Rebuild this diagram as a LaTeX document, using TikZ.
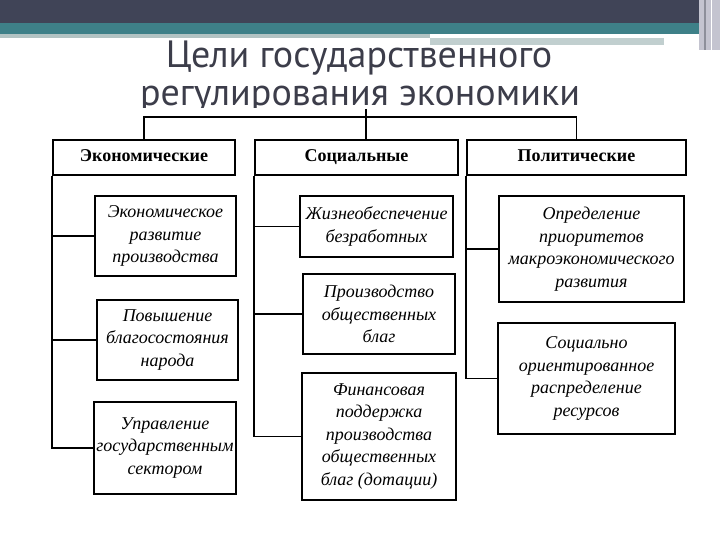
\documentclass[tikz,border=0pt]{standalone}
\usepackage{fontspec}
\setmainfont{Liberation Serif}
\newfontfamily\titlefont{PT Sans}
\definecolor{mSlate}{HTML}{404457}
\definecolor{mTeal}{HTML}{3E8088}
\definecolor{mMist}{HTML}{B2C3C3}
\definecolor{mFog}{HTML}{C4C4D0}
\definecolor{mInk}{HTML}{3C3D4A}
\usetikzlibrary{positioning}
\tikzset{
  headbox/.style={draw, line width=1.6bp, inner sep=0pt,
    text height=12.5bp, text depth=4bp,
    font=\fontsize{18bp}{22bp}\selectfont\bfseries},
  goalbox/.style={draw, line width=1.6bp, inner sep=2bp, align=center,
    font=\fontsize{18bp}{22.5bp}\selectfont\itshape},
  link/.style={line width=1.6bp}
}
\begin{document}
\begin{tikzpicture}[x=1bp, y=-1bp]
  \useasboundingbox (0,0) rectangle (720,540);
  % slide header bands
  \fill[mSlate] (0,0) rectangle (699,23);
  \fill[mTeal] (0,23) rectangle (699,34);
  \fill[mMist] (0,34) rectangle (430,38);
  \fill[mMist!80] (430,38) rectangle (664,45);
  \fill[mFog] (699,0) rectangle (720,50);
  \draw[mSlate!60, line width=2bp] (705,0) -- (705,50);
  \draw[white, line width=1bp] (711,0) -- (711,50);
  % title, cut off by the scanned chart below
  \node[font=\titlefont\fontsize{38bp}{38bp}\selectfont, text=mInk, anchor=base] (title1) at (359,68) {Цели государственного};
  \node[font=\titlefont\fontsize{38bp}{38bp}\selectfont, text=mInk, anchor=base] (title2) at (360,106) {регулирования экономики};
  \fill[white] (0,108) rectangle (720,540);

  % three kinds of goals
  \node[headbox, minimum width=182bp, minimum height=35bp] (eco) at (144,157.5) {Экономические};
  \node[headbox, minimum width=203bp, minimum height=35bp] (soc) at (356.5,157.5) {Социальные};
  \node[headbox, minimum width=219bp, minimum height=35bp] (pol) at (576.5,157.5) {Политические};
  \coordinate (stem) at (366,109);
  \coordinate (bar) at (366,117);
  \draw[link] (stem) -- (stem |- soc.north);
  \draw[link] (eco.north) |- (bar) -| (pol.north);

  % economic
  \node[goalbox, minimum width=141bp, minimum height=80bp] (eco1) at (165.5,236) {Экономическое\\развитие\\производства};
  \node[goalbox, minimum width=141bp, minimum height=80bp] (eco2) at (167.5,340) {Повышение\\благосостояния\\народа};
  \node[goalbox, minimum width=142bp, minimum height=92bp] (eco3) at (165,448) {Управление\\государственным\\сектором};
  \draw[link] (eco.south west) |- (eco3.west);
  \foreach \n in {eco1,eco2}{
    \draw[link] (eco.south west |- \n.west) -- (\n.west);}

  % social
  \node[goalbox, minimum width=153bp, minimum height=61bp] (soc1) at (376.5,226.5) {Жизнеобеспечение\\безработных};
  \node[goalbox, minimum width=152bp, minimum height=80bp] (soc2) at (379,314) {Производство\\общественных\\благ};
  \node[goalbox, minimum width=154bp, minimum height=127bp] (soc3) at (379,436.5) {Финансовая\\поддержка\\производства\\общественных\\благ (дотации)};
  \draw[link] (soc.south west) |- (soc3.west);
  \foreach \n in {soc1,soc2}{
    \draw[link] (soc.south west |- \n.west) -- (\n.west);}

  % political
  \node[goalbox, minimum width=185bp, minimum height=106bp] (pol1) at (591.5,249) {Определение\\приоритетов\\макроэкономического\\развития};
  \node[goalbox, minimum width=177bp, minimum height=111bp] (pol2) at (586.5,378.5) {Социально\\ориентированное\\распределение\\ресурсов};
  \draw[link] (pol.south west) |- (pol2.west);
  \draw[link] (pol.south west |- pol1.west) -- (pol1.west);
\end{tikzpicture}
\end{document}
